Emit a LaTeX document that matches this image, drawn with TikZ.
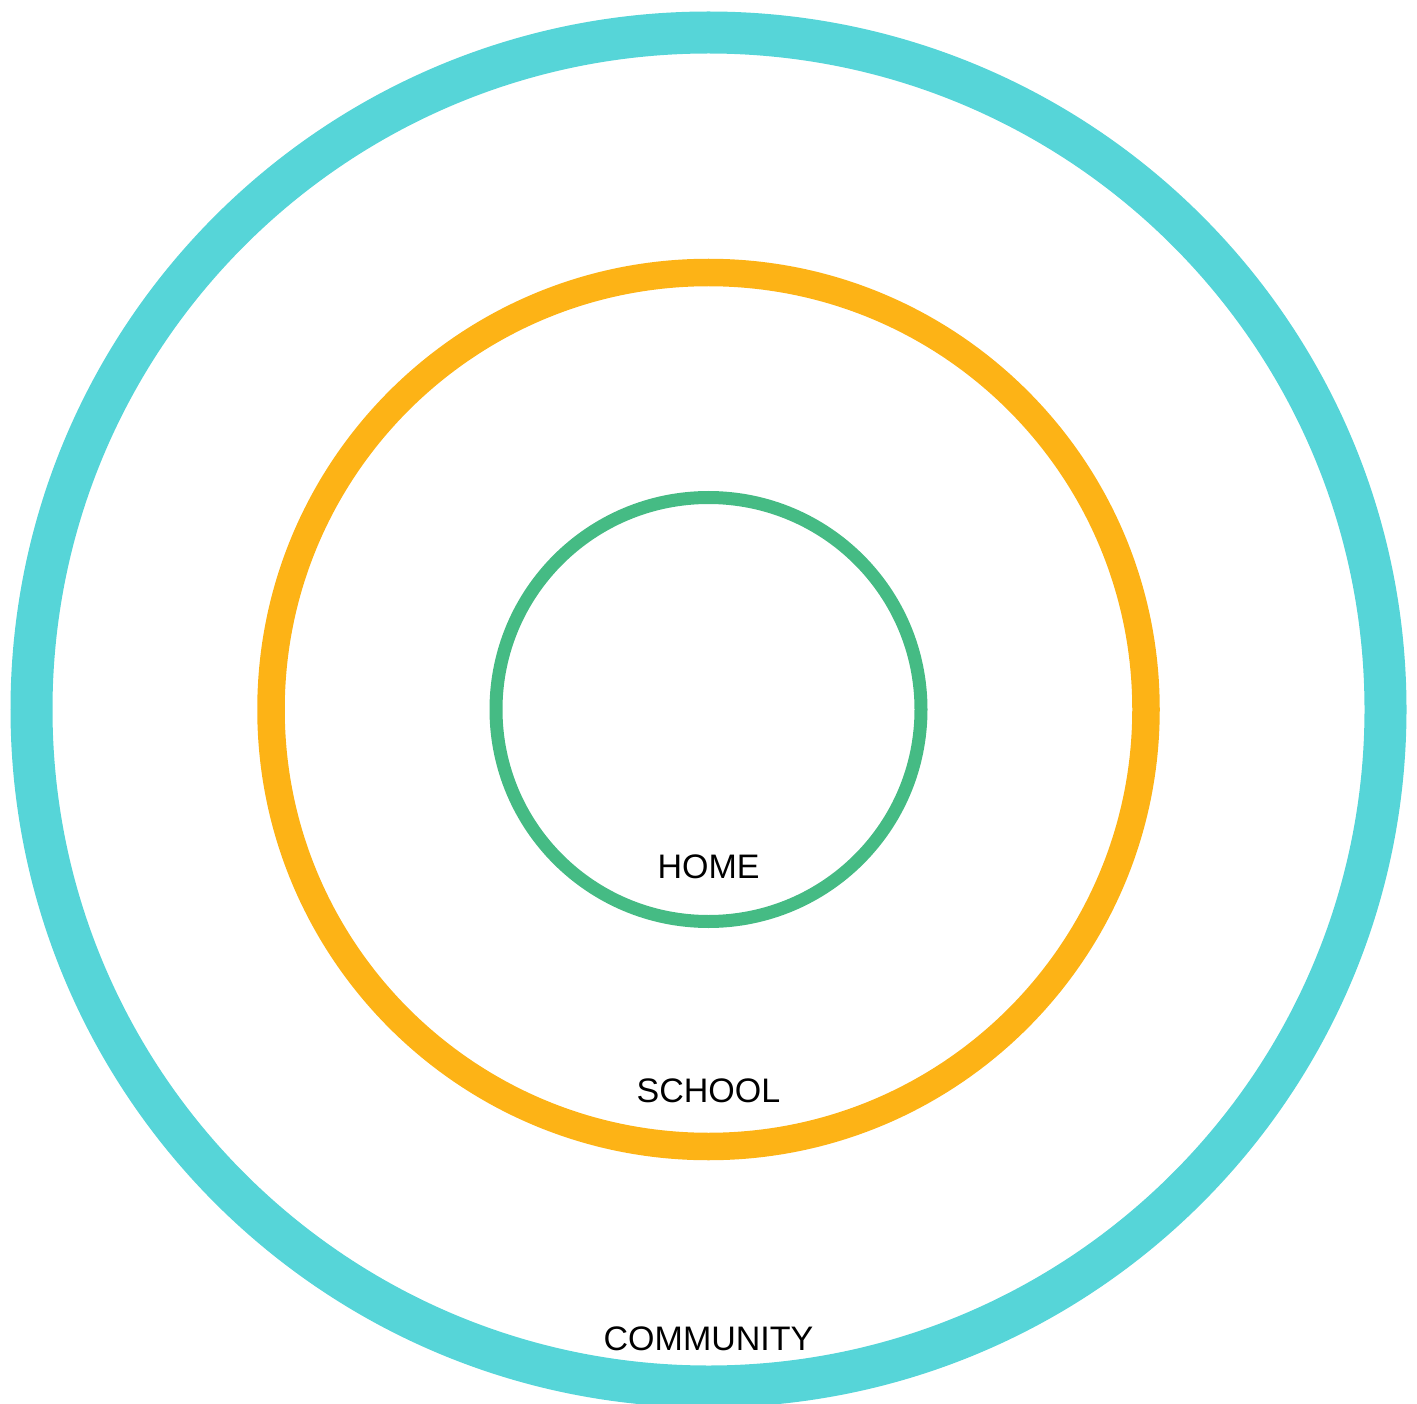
\documentclass[tikz,border=0pt]{standalone}
\usepackage{fontspec}
\setmainfont{Liberation Sans}
\usetikzlibrary{positioning}
\definecolor{ringcyan}{HTML}{56D5D8}
\definecolor{ringorange}{HTML}{FDB316}
\definecolor{ringgreen}{HTML}{45BB84}
\begin{document}
\begin{tikzpicture}[x=1pt, y=-1pt, label/.style={font=\fontsize{34}{37}\selectfont, inner sep=0pt}]
            \useasboundingbox (0,0) rectangle (1417,1404);
            \coordinate (c) at (708.5,709.5);
            \draw[ringcyan, line width=42pt] (c) ellipse [x radius=677pt, y radius=677pt];
            \draw[ringorange, line width=27.5pt] (c) ellipse [x radius=437.5pt, y radius=437pt];
            \draw[ringgreen, line width=13pt] (c) ellipse [x radius=212.5pt, y radius=212pt];
            \node[label] (home) at (708.5,867) {HOME};
            \node[label] (school) at (708.5,1091) {SCHOOL};
            \node[label] (community) at (708.5,1338.5) {COMMUNITY};
        \end{tikzpicture}
\end{document}
